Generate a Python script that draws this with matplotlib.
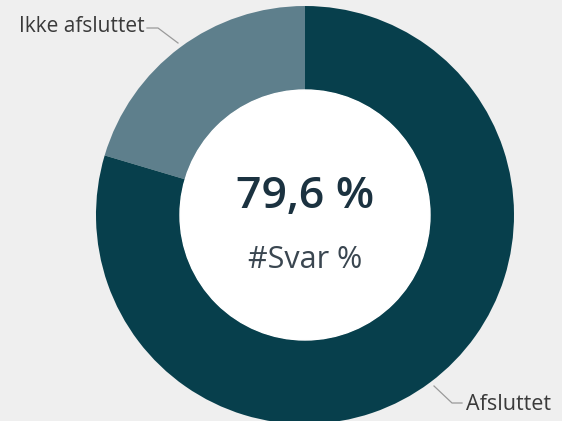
import matplotlib.pyplot as plt

# data
labels = ['Ikke afsluttet', 'Afsluttet']
values = [20.4, 79.6]
colors = ['#5e7f8c', '#073f4c']
center_value = '79,6 %'
center_label = '#Svar %'

plt.rcParams['font.family'] = ['Open Sans', 'DejaVu Sans']

fig = plt.figure(figsize=(5.62, 4.21), dpi=100, facecolor='#efefef')
ax = fig.add_axes([0, 0, 1, 1])
ax.set_facecolor('#efefef')

cx, cy, r_out, r_in = 305, 206, 209, 125

wedges, _ = ax.pie(values, colors=colors, startangle=90, counterclock=True,
                   center=(cx, cy), radius=r_out, frame=True,
                   wedgeprops=dict(width=r_out - r_in, linewidth=0))
ax.add_patch(plt.Circle((cx, cy), r_in, color='white', zorder=3))
ax.set_xlim(0, 562)
ax.set_ylim(0, 421)
ax.set_aspect('equal')
ax.axis('off')

# leader lines
lc = '#9a9a9a'
ax.plot([147, 158, 178], [393, 393, 378], color=lc, lw=0.9)
ax.plot([434, 452, 462], [35, 18, 18], color=lc, lw=0.9)
ax.text(145, 394, labels[0], ha='right', va='center', fontsize=15, color='#3a3a3a')
ax.text(466, 17, labels[1], ha='left', va='center', fontsize=15.5, color='#3a3a3a')

# center text
ax.text(cx, 225, center_value, ha='center', va='center', fontsize=32,
        fontweight='semibold', color='#1b3240', zorder=4)
ax.text(cx, 161, center_label, ha='center', va='center', fontsize=22,
        color='#3a4650', zorder=4)

fig.savefig('out.png', dpi=100, facecolor=fig.get_facecolor())
